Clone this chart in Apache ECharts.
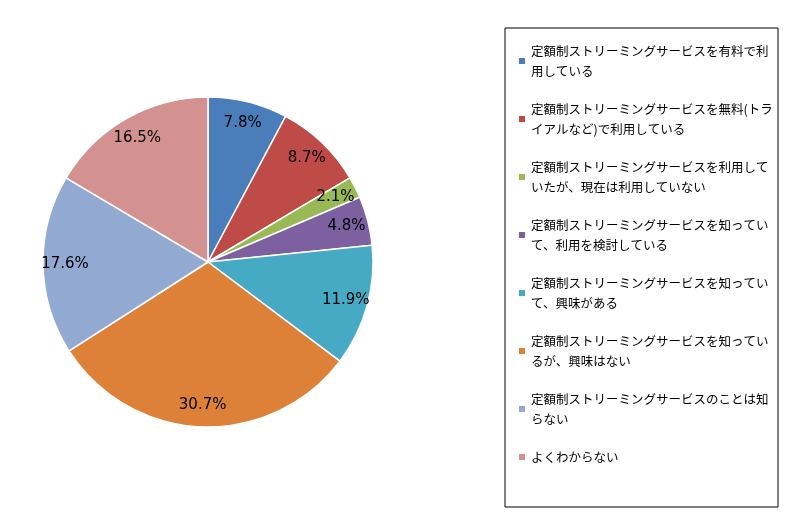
<!DOCTYPE html>
<html><head><meta charset="utf-8">
<script src="https://cdn.jsdelivr.net/npm/echarts@6/dist/echarts.min.js"></script>
<style>html,body{margin:0;background:#fff}#c{width:800px;height:521px}</style></head>
<body><div id="c"></div>
<script>
const categories=["定額制ストリーミングサービスを有料で利用している","定額制ストリーミングサービスを無料(トライアルなど)で利用している","定額制ストリーミングサービスを利用していたが、現在は利用していない","定額制ストリーミングサービスを知っていて、利用を検討している","定額制ストリーミングサービスを知っていて、興味がある","定額制ストリーミングサービスを知っているが、興味はない","定額制ストリーミングサービスのことは知らない","よくわからない"];
const values=[7.8,8.7,2.1,4.8,11.9,30.7,17.6,16.5];
const colors=["#4a7ebb","#be4b48","#98b954","#7d60a0","#46aac5","#dd8139","#92a9d2","#d39290"];
const data=categories.map((n,i)=>({name:n,value:values[i]}));
const ch=echarts.init(document.getElementById('c'));
ch.setOption({
 color:colors,
 graphic:[{type:'rect',shape:{x:505,y:28,width:273,height:479},style:{fill:'none',stroke:'#000',lineWidth:1}}],
 legend:{orient:'vertical',left:512,top:36,itemWidth:8,itemHeight:8,itemGap:18,icon:'rect',
  textStyle:{fontFamily:'Noto Sans CJK JP',fontSize:12.5,color:'#000',width:250,overflow:'break',lineHeight:20}},
 series:[
  {type:'pie',center:[208,262],radius:[0,165],startAngle:90,clockwise:true,data:data,
   label:{show:false},labelLine:{show:false},itemStyle:{borderColor:'#fff',borderWidth:1.5},emphasis:{disabled:true}},
  {type:'pie',center:[208,262],radius:[115,165],startAngle:90,silent:true,data:data,
   itemStyle:{color:'transparent'},labelLine:{show:false},emphasis:{disabled:true},
   label:{show:true,position:'inside',formatter:p=>p.value.toFixed(1)+'%',color:'#000',fontSize:15,fontFamily:'DejaVu Sans'}}
 ]
});
</script></body></html>
